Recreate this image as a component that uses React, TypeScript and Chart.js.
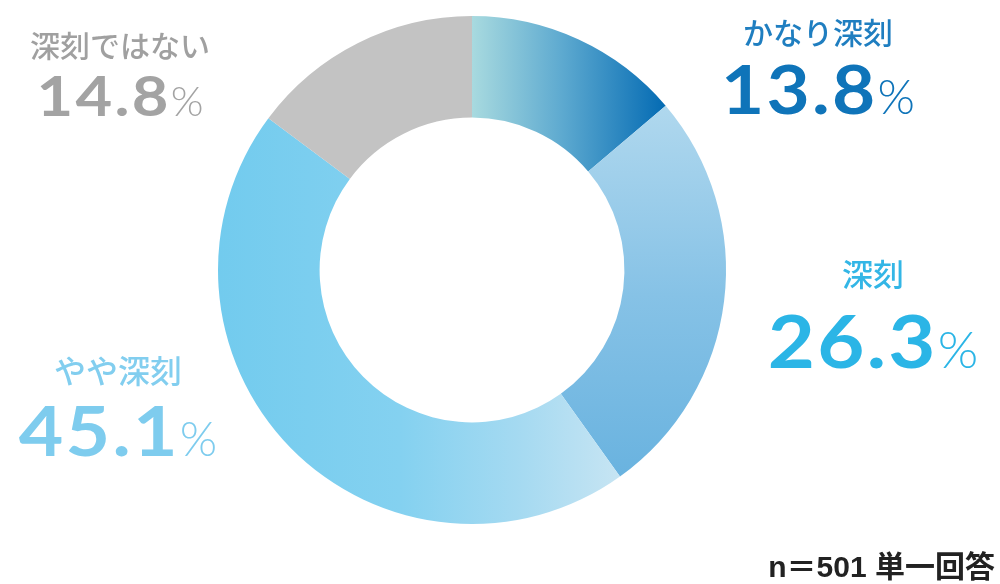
import React, { useEffect, useRef } from "react";
import { Chart, registerables } from "chart.js";

Chart.register(...registerables);

// ---- data ----
const categories: string[] = ["かなり深刻", "深刻", "やや深刻", "深刻ではない"];
const values: number[] = [13.8, 26.3, 45.1, 14.8];
const sampleNote = "n＝501 単一回答";

// ---- styles / layout (kept separate from data) ----
const labelColors = ["#1f7ec0", "#33b6e6", "#82ceef", "#a0a0a0"];
const numberColors = ["#0f74b9", "#2bb5e6", "#7eccee", "#a3a3a3"];
const labelX = [818, 873, 118, 120];
const labelY = [33, 274, 371, 46];
const labelSize = [30, 31, 32, 30];
const numberY = [114, 368, 456, 116];
const numberSize = [66, 72, 68, 56];
const numberWiden = 1.13;
const numberSpacing = [2, 2, 2, 2];
const pctSize = [48, 52, 48, 42];

const NUM_FONT = "Lato, 'Noto Sans', sans-serif";
const JP_FONT = "'Noto Sans CJK JP', 'Noto Sans', sans-serif";

function makeFill(chart: any, index: number) {
  const ctx = chart.ctx as CanvasRenderingContext2D;
  const area = chart.chartArea;
  if (!area) return "#ccc";
  const cx = (area.left + area.right) / 2;
  const cy = (area.top + area.bottom) / 2;
  const r = Math.min(area.right - area.left, area.bottom - area.top) / 2;
  if (index === 0) {
    const g = ctx.createLinearGradient(cx, cy, cx + r * 0.78, cy);
    g.addColorStop(0, "#a8dadf");
    g.addColorStop(0.45, "#5eaad0");
    g.addColorStop(1, "#0068b2");
    return g;
  }
  if (index === 1) {
    const g = ctx.createLinearGradient(cx, cy - r * 0.65, cx, cy + r * 0.85);
    g.addColorStop(0, "#b0d8ee");
    g.addColorStop(0.5, "#86c2e6");
    g.addColorStop(1, "#68b2df");
    return g;
  }
  if (index === 2) {
    const g = ctx.createLinearGradient(cx - r, cy, cx + r * 0.6, cy);
    g.addColorStop(0, "#72cbee");
    g.addColorStop(0.45, "#84d1f0");
    g.addColorStop(0.75, "#a6daf1");
    g.addColorStop(1, "#c8e5f3");
    return g;
  }
  return "#c3c3c3";
}

const labelPlugin = {
  id: "cornerLabels",
  afterDraw(chart: any) {
    const ctx = chart.ctx as any;
    ctx.save();
    categories.forEach((cat, i) => {
      // category label
      ctx.letterSpacing = "0px";
      ctx.font = `500 ${labelSize[i]}px ${JP_FONT}`;
      ctx.fillStyle = labelColors[i];
      ctx.textAlign = "center";
      ctx.textBaseline = "middle";
      ctx.fillText(cat, labelX[i], labelY[i]);
      // number + %
      const numStr = values[i].toFixed(1);
      ctx.textBaseline = "alphabetic";
      ctx.textAlign = "left";
      const numFont = `700 ${numberSize[i]}px ${NUM_FONT}`;
      const pctFont = `300 ${pctSize[i]}px ${NUM_FONT}`;
      ctx.font = numFont;
      ctx.letterSpacing = `${numberSpacing[i]}px`;
      const wNum = ctx.measureText(numStr).width * numberWiden;
      ctx.letterSpacing = "0px";
      ctx.font = pctFont;
      const wPct = ctx.measureText("%").width;
      const gap = 0;
      const start = labelX[i] - (wNum + gap + wPct) / 2;
      ctx.fillStyle = numberColors[i];
      ctx.font = numFont;
      ctx.letterSpacing = `${numberSpacing[i]}px`;
      ctx.save();
      ctx.translate(start, numberY[i]);
      ctx.scale(numberWiden, 1);
      ctx.fillText(numStr, 0, 0);
      ctx.restore();
      ctx.letterSpacing = "0px";
      ctx.font = pctFont;
      ctx.fillText("%", start + wNum + gap, numberY[i]);
    });
    // sample note
    ctx.letterSpacing = "0px";
    ctx.font = `700 30px 'Liberation Sans', 'Noto Sans CJK JP', sans-serif`;
    ctx.fillStyle = "#222222";
    ctx.textAlign = "right";
    ctx.textBaseline = "alphabetic";
    ctx.fillText(sampleNote, 995, 577);
    ctx.restore();
  },
};

export default function App() {
  const canvasRef = useRef<HTMLCanvasElement | null>(null);

  useEffect(() => {
    document.body.style.margin = "0";
    const canvas = canvasRef.current;
    if (!canvas) return;
    const chart = new Chart(canvas, {
      type: "doughnut",
      data: {
        labels: categories,
        datasets: [
          {
            data: values,
            backgroundColor: (c: any) => makeFill(c.chart, c.dataIndex),
            borderWidth: 0,
          },
        ],
      },
      options: {
        animation: false,
        responsive: false,
        maintainAspectRatio: false,
        cutout: "60%",
        rotation: 0,
        layout: { padding: { left: 218, right: 274, top: 16, bottom: 60 } },
        plugins: {
          legend: { display: false },
          tooltip: { enabled: false },
        },
      },
      plugins: [labelPlugin],
    });
    return () => chart.destroy();
  }, []);

  return (
    <div style={{ position: "absolute", left: 0, top: 0, width: 1000, height: 584, background: "#fff" }}>
      <canvas ref={canvasRef} width={1000} height={584} style={{ width: 1000, height: 584 }} />
    </div>
  );
}
